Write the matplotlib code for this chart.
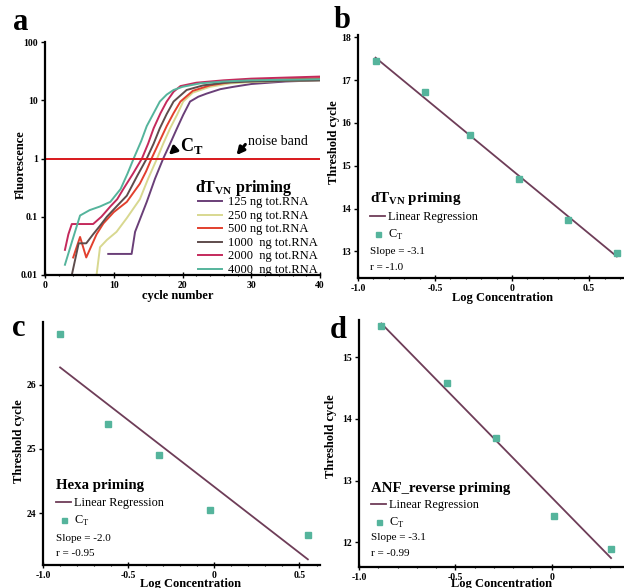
import numpy as np
import matplotlib
matplotlib.use("Agg")
import matplotlib.pyplot as plt
from matplotlib.ticker import MultipleLocator, NullLocator

plt.rcParams['font.family'] = ['Liberation Serif', 'DejaVu Serif']
plt.rcParams['mathtext.fontset'] = 'custom'
plt.rcParams['mathtext.rm'] = 'Liberation Serif'
plt.rcParams['mathtext.bf'] = 'Liberation Serif:bold'

# ---------------- data: panel a (amplification curves) ----------------
amp_labels = ["125 ng tot.RNA", "250 ng tot.RNA", "500 ng tot.RNA",
              "1000  ng tot.RNA", "2000  ng tot.RNA", "4000  ng tot.RNA"]
amp_colors = ["#6a3f78", "#d8d890", "#e2402e", "#5e4c4c", "#c42a5c", "#55b49c"]

cyc_125 = [9.2, 12.6, 13.1, 14.8, 16.0, 17.2, 18.2, 19.2, 20.1, 21.1, 22.3, 23.5, 25.5, 27.4, 30, 35, 40]
flu_125 = [0.023, 0.023, 0.055, 0.18, 0.45, 1.0, 1.8, 3.3, 5.6, 9.5, 11.5, 13, 15.5, 17, 19, 21, 22]
cyc_250 = [7.5, 8.0, 9.0, 10.4, 11.9, 13.8, 15.0, 16.3, 17.2, 18.2, 19.2, 20.1, 21.5, 24, 27, 30, 35, 40]
flu_250 = [0.01, 0.03, 0.04, 0.055, 0.095, 0.2, 0.45, 1.0, 1.8, 3.3, 5.6, 9.5, 13.5, 17, 19.5, 20.5, 21.5, 22]
cyc_500 = [4.1, 5.1, 6.0, 7.5, 8.5, 10.0, 11.9, 13.8, 14.7, 15.5, 16.6, 17.7, 18.7, 19.7, 21.5, 24, 27, 30, 35, 40]
flu_500 = [0.02, 0.045, 0.02, 0.05, 0.077, 0.12, 0.18, 0.37, 0.6, 1.0, 1.9, 3.6, 6.0, 9.5, 14.5, 18, 20.5, 22, 23, 24]
cyc_1000 = [3.9, 4.9, 6.0, 7.0, 8.0, 9.0, 10.4, 11.9, 13.4, 14.8, 15.8, 16.7, 17.7, 18.7, 20.6, 23, 26, 30, 35, 40]
flu_1000 = [0.01, 0.035, 0.035, 0.05, 0.07, 0.1, 0.15, 0.23, 0.5, 1.0, 1.8, 3.3, 5.8, 9.5, 15, 18, 20, 21, 21.5, 22]
cyc_2000 = [2.9, 3.4, 3.9, 7.0, 8.2, 9.5, 10.5, 11.4, 12.8, 14.1, 15.0, 15.8, 16.8, 17.7, 18.7, 19.7, 22, 26, 30, 35, 40]
flu_2000 = [0.027, 0.05, 0.075, 0.075, 0.1, 0.15, 0.2, 0.3, 0.55, 1.0, 1.8, 3.3, 6.0, 9.5, 14, 17.5, 20, 22, 23.5, 24.5, 25.5]
cyc_4000 = [2.9, 4.0, 5.1, 6.5, 8.0, 9.5, 11.0, 12.0, 12.9, 14.0, 14.8, 15.8, 16.7, 17.7, 18.7, 20.0, 22.6, 26, 30, 35, 40]
flu_4000 = [0.015, 0.04, 0.105, 0.13, 0.15, 0.18, 0.3, 0.55, 1.0, 2.0, 3.6, 6.0, 9.5, 12.5, 15, 17, 19.5, 21, 22, 22.5, 23]

noise_band = 1.0

# ---------------- data: panels b, c, d (standard curves) ----------------
b_logc = [-0.886, -0.568, -0.27, 0.048, 0.36, 0.68]
b_ct = [17.45, 16.71, 15.71, 14.70, 13.73, 12.96]
c_logc = [-0.90, -0.617, -0.323, -0.025, 0.549]
c_ct = [26.78, 25.385, 24.90, 24.05, 23.67]
d_logc = [-0.884, -0.542, -0.29, 0.012, 0.308]
d_ct = [15.50, 14.58, 13.69, 12.42, 11.89]

reg_color = "#6e3d58"
pt_color = "#55b49c"

W, H = 624, 588
fig = plt.figure(figsize=(W / 100, H / 100), dpi=100)


def px_axes(l, t, r, b):
    return fig.add_axes([l / W, 1 - b / H, (r - l) / W, (b - t) / H])


def style(ax):
    for s in ['top', 'right']:
        ax.spines[s].set_visible(False)
    for s in ['left', 'bottom']:
        ax.spines[s].set_linewidth(1.6)
    ax.tick_params(axis='both', which='major', labelsize=7, width=1.0, length=3, pad=2)
    ax.tick_params(axis='x', which='minor', width=0.8, length=2, direction='inout')
    ax.tick_params(axis='x', which='major', direction='inout', length=4)
    for lab in ax.get_xticklabels() + ax.get_yticklabels():
        lab.set_fontweight('bold')


# ---------------- panel a ----------------
axa = px_axes(45, 42, 320, 275)
series = [(cyc_125, flu_125), (cyc_250, flu_250), (cyc_500, flu_500),
          (cyc_1000, flu_1000), (cyc_2000, flu_2000), (cyc_4000, flu_4000)]
handles = []
for (cx, fy), col, lab in zip(series, amp_colors, amp_labels):
    ln, = axa.plot(cx, fy, color=col, lw=1.4, label=lab)
    handles.append(ln)
axa.axhline(noise_band, color="#d8181c", lw=1.4)
axa.set_yscale('log')
axa.set_xlim(0, 40)
axa.set_ylim(0.01, 100)
axa.set_yticks([0.01, 0.1, 1, 10, 100])
axa.set_yticklabels(["0.01", "0.1", "1", "10", "100"])
axa.yaxis.set_minor_locator(NullLocator())
axa.xaxis.set_major_locator(MultipleLocator(10))
axa.xaxis.set_minor_locator(MultipleLocator(2))
style(axa)
axa.set_xlabel("cycle number", fontsize=9, fontweight='bold')
axa.xaxis.set_label_coords(0.484, -0.065)
axa.set_ylabel("Fluorescence", fontsize=9, fontweight='bold')
axa.yaxis.set_label_coords(-0.065, 0.472)
leg = axa.legend(handles=handles, loc='upper left', bbox_to_anchor=(0.556, 0.337),
                 frameon=False, fontsize=9, handlelength=1.9, handletextpad=0.48,
                 labelspacing=0.12, borderpad=0, borderaxespad=0)
axa.text(0.545, 0.373, "dT$_{\\mathregular{VN}}$ priming", transform=axa.transAxes,
         fontsize=11.5, fontweight='bold', va='center', ha='left')
axa.annotate("", xy=(17.7, 1.07), xytext=(19.3, 1.6),
             arrowprops=dict(arrowstyle='-|>', color='black', lw=2.2, mutation_scale=11))
axa.text(19.6, 1.65, "C$_{\\mathregular{T}}$", fontsize=13, fontweight='bold', va='center', ha='left')
axa.annotate("", xy=(27.6, 1.05), xytext=(29.4, 1.9),
             arrowprops=dict(arrowstyle='-|>', color='black', lw=2.2, mutation_scale=11))
axa.text(29.6, 1.95, "noise band", fontsize=10, va='center', ha='left')
fig.text(13 / W, 1 - 22 / H, "a", fontsize=22, fontweight='bold', va='center', ha='left')


# ---------------- panels b, c, d ----------------
def std_panel(box, xs, ys, xlim, ylim, yticks, xticks, title, slope_txt, r_txt,
              leg_anchor, title_size, slope_y, r_y, xlab_xy, ylab_xy, letter, letter_pos):
    ax = px_axes(*box)
    k, c0 = np.polyfit(xs, ys, 1)
    xr = np.array([min(xs), max(xs)])
    ax.plot(xr, k * xr + c0, color=reg_color, lw=1.3, label="Linear Regression")
    ax.plot(xs, ys, ls='none', marker='s', ms=4.5, color=pt_color, label="C$_{\\mathregular{T}}$")
    ax.set_xlim(*xlim)
    ax.set_ylim(*ylim)
    ax.set_yticks(yticks)
    ax.set_xticks(xticks)
    ax.set_xticklabels(["0" if t == 0 else f"{t:.1f}" for t in xticks])
    ax.set_yticklabels([str(t) for t in yticks])
    ax.xaxis.set_minor_locator(MultipleLocator(0.1))
    style(ax)
    ax.set_xlabel("Log Concentration", fontsize=9, fontweight='bold')
    ax.xaxis.set_label_coords(*xlab_xy)
    ax.set_ylabel("Threshold cycle", fontsize=9, fontweight='bold')
    ax.yaxis.set_label_coords(*ylab_xy)
    lg = ax.legend(loc='upper left', bbox_to_anchor=leg_anchor, frameon=False,
                   fontsize=8.8, handlelength=1.25, handletextpad=0.2, labelspacing=0.4,
                   borderpad=0, borderaxespad=0, markerscale=0.8,
                   title=title, title_fontproperties={'weight': 'bold', 'size': title_size})
    lg._legend_box.align = "left"
    ax.text(leg_anchor[0], slope_y, slope_txt, transform=ax.transAxes, fontsize=8, va='center')
    ax.text(leg_anchor[0], r_y, r_txt, transform=ax.transAxes, fontsize=8, va='center')
    fig.text(letter_pos[0] / W, 1 - letter_pos[1] / H, letter, fontsize=22,
             fontweight='bold', va='center', ha='left')
    return ax


std_panel((358, 35, 623, 278), b_logc, b_ct, (-1.0, 0.72), (12.38, 18.05),
          [13, 14, 15, 16, 17, 18], [-1.0, -0.5, 0, 0.5],
          "dT$_{\\mathregular{VN}}$ priming", "Slope = -3.1", "r = -1.0",
          (0.045, 0.364), 10.8, 0.107, 0.045, (0.547, -0.056), (-0.068, 0.558),
          "b", (334, 20))

std_panel((43, 322, 320, 565), c_logc, c_ct, (-0.99, 0.62), (23.2, 26.97),
          [24, 25, 26], [-1.0, -0.5, 0, 0.5],
          "Hexa priming", "Slope = -2.0", "r = -0.95",
          (0.047, 0.352), 10.7, 0.107, 0.049, (0.534, -0.054), (-0.065, 0.51),
          "c", (12, 328))

std_panel((359, 320, 623, 567), d_logc, d_ct, (-0.99, 0.37), (11.6, 15.6),
          [12, 13, 14, 15], [-1.0, -0.5, 0],
          "ANF_reverse priming", "Slope = -3.1", "r = -0.99",
          (0.045, 0.346), 10.7, 0.121, 0.053, (0.54, -0.045), (-0.083, 0.53),
          "d", (330, 330))

fig.savefig("out.png", dpi=100)
